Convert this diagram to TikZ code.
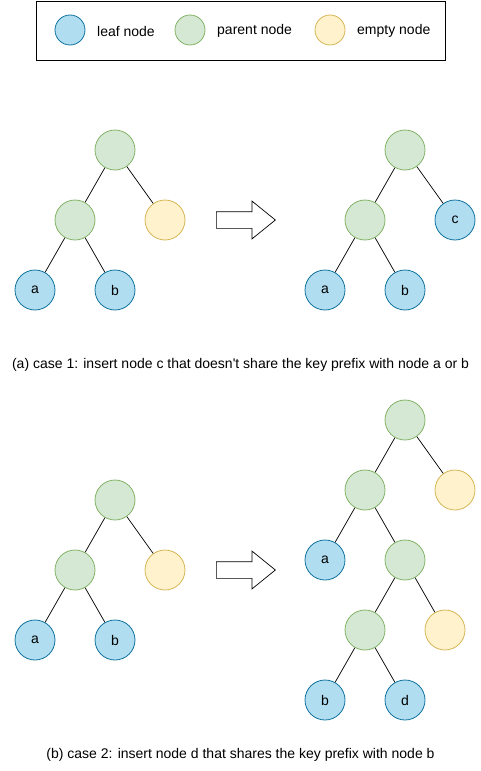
\documentclass[tikz,border=0pt]{standalone}
\usepackage{fontspec}
\setmainfont{Liberation Sans}
\usetikzlibrary{shapes.arrows}
\definecolor{leafblue}{HTML}{B1DDF0}
\definecolor{leafline}{HTML}{10739E}
\definecolor{parentgreen}{HTML}{D5E8D4}
\definecolor{parentline}{HTML}{82B366}
\definecolor{emptyyellow}{HTML}{FFF2CC}
\definecolor{emptyline}{HTML}{D6B656}

\tikzset{
  treenode/.style={circle, draw, line width=0.8pt, minimum size=40pt, inner sep=0pt, font=\fontsize{14}{16}\selectfont},
  leafnode/.style={treenode, fill=leafblue, draw=leafline},
  parentnode/.style={treenode, fill=parentgreen, draw=parentline},
  emptynode/.style={treenode, fill=emptyyellow, draw=emptyline},
  keynode/.style={minimum size=30pt},
  keytext/.style={anchor=west, inner sep=0pt, font=\fontsize{14}{16}\selectfont},
  edge/.style={line width=0.7pt},
  blockarrow/.style={single arrow, draw, line width=0.7pt, fill=white, anchor=tail, minimum height=59pt, inner sep=8pt, single arrow head extend=10.5pt, single arrow tip angle=78},
  caption/.style={font=\fontsize{14}{16}\selectfont}
}

\begin{document}
\begin{tikzpicture}[x=1pt,y=-1pt]
            \useasboundingbox (0,0) rectangle (480,771);

            % Legend
            \node[draw, line width=0.8pt, minimum width=409pt, minimum height=59pt, inner sep=0pt] (legend) at (240.5,30.5) {};
            \node[leafnode, keynode] (keyleaf) at (70,30) {};
            \node[keytext] (keyleaftext) at (97,31) {leaf node};
            \node[parentnode, keynode] (keyparent) at (190,30) {};
            \node[keytext] (keyparenttext) at (217,31) {parent node};
            \node[emptynode, keynode] (keyempty) at (330,30) {};
            \node[keytext] (keyemptytext) at (357,31) {empty node};

            % Case 1, before
            \node[parentnode] (aroot) at (115,150) {};
            \node[parentnode] (amid) at (75,220) {};
            \node[emptynode] (aempty) at (165,220) {};
            \node[leafnode] (aa) at (35,290) {a};
            \node[leafnode] (ab) at (115,290) {b};

            \draw[edge] (aroot) -- (amid);
            \draw[edge] (aroot) -- (aempty);
            \draw[edge] (amid) -- (aa);
            \draw[edge] (amid) -- (ab);

            % Case 1, after
            \node[parentnode] (arootnew) at (405,150) {};
            \node[parentnode] (amidnew) at (365,220) {};
            \node[leafnode] (ac) at (455,220) {c};
            \node[leafnode] (aanew) at (325,290) {a};
            \node[leafnode] (abnew) at (405,290) {b};

            \draw[edge] (arootnew) -- (amidnew);
            \draw[edge] (arootnew) -- (ac);
            \draw[edge] (amidnew) -- (aanew);
            \draw[edge] (amidnew) -- (abnew);

            \node[blockarrow] (arrowa) at (216,220) {};
            \node[caption] (captiona) at (240.5,365) {(a) case 1: insert node c that doesn\textquotesingle t share the key prefix with node a or b};

            % Case 2, before
            \node[parentnode] (broot) at (115,500) {};
            \node[parentnode] (bmid) at (75,570) {};
            \node[emptynode] (bempty) at (165,570) {};
            \node[leafnode] (ba) at (35,640) {a};
            \node[leafnode] (bb) at (115,640) {b};

            \draw[edge] (broot) -- (bmid);
            \draw[edge] (broot) -- (bempty);
            \draw[edge] (bmid) -- (ba);
            \draw[edge] (bmid) -- (bb);

            % Case 2, after
            \node[parentnode] (brootnew) at (405,420) {};
            \node[parentnode] (bmidnew) at (365,490) {};
            \node[emptynode] (bemptynew) at (455,490) {};
            \node[leafnode] (banew) at (325,560) {a};
            \node[parentnode] (bsplit) at (405,560) {};
            \node[parentnode] (bsplitmid) at (365,630) {};
            \node[emptynode] (bsplitempty) at (445,630) {};
            \node[leafnode] (bbnew) at (325,700) {b};
            \node[leafnode] (bd) at (405,700) {d};

            \draw[edge] (brootnew) -- (bmidnew);
            \draw[edge] (brootnew) -- (bemptynew);
            \draw[edge] (bmidnew) -- (banew);
            \draw[edge] (bmidnew) -- (bsplit);
            \draw[edge] (bsplit) -- (bsplitmid);
            \draw[edge] (bsplit) -- (bsplitempty);
            \draw[edge] (bsplitmid) -- (bbnew);
            \draw[edge] (bsplitmid) -- (bd);

            \node[blockarrow] (arrowb) at (216,570) {};
            \node[caption] (captionb) at (240.5,755) {(b) case 2: insert node d that shares the key prefix with node b};
\end{tikzpicture}
\end{document}
